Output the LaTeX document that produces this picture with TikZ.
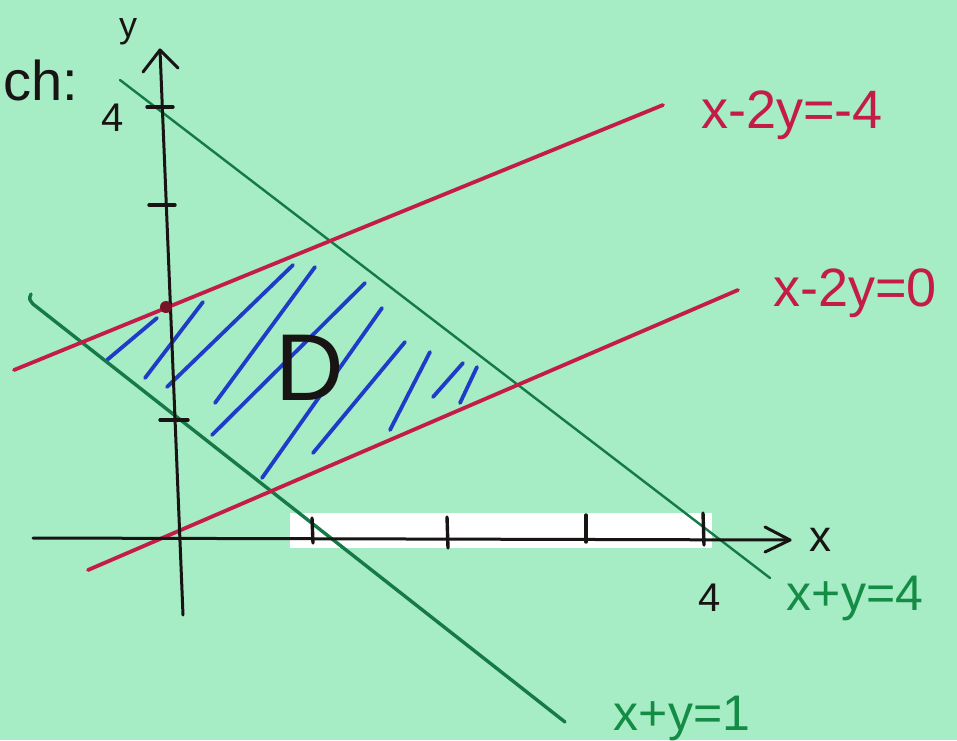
\documentclass[tikz,border=0pt]{standalone}
\usepackage{fontspec}
\setmainfont{Liberation Sans}
\definecolor{bg}{RGB}{166,236,196}
\definecolor{cred}{RGB}{196,28,72}
\definecolor{cgreen}{RGB}{22,122,72}
\definecolor{cgreenlab}{RGB}{20,140,70}
\definecolor{cblue}{RGB}{30,60,200}
\definecolor{cdot}{RGB}{120,20,40}
\definecolor{cink}{RGB}{25,20,20}
\begin{document}
\begin{tikzpicture}[x=1pt,y=-1pt,line cap=round,line join=round,
  axisline/.style={draw=cink,line width=3pt},
  tickline/.style={draw=cink,line width=3.4pt},
  redline/.style={draw=cred,line width=3.8pt},
  greenthin/.style={draw=cgreen,line width=2.4pt},
  greenthick/.style={draw=cgreen,line width=3.4pt},
  hatch/.style={draw=cblue,line width=3.8pt},
  redlab/.style={text=cred,font=\fontsize{54}{54}\selectfont,inner sep=0pt},
  greenlab/.style={text=cgreenlab,font=\fontsize{50}{50}\selectfont,inner sep=0pt},
  inklab/.style={text=cink,inner sep=0pt}]
\fill[bg] (0,0) rectangle (957,740);
\useasboundingbox (0,0) rectangle (957,740);
% white strip
\fill[white] (290,513) rectangle (712,548);
% blue hatching
\draw[hatch] (107,360) -- (157,318);
\draw[hatch] (145,378) -- (203,302);
\draw[hatch] (167,387) -- (293,265);
\draw[hatch] (215,403) -- (315,267);
\draw[hatch] (212,435) -- (365,283);
\draw[hatch] (262,478) -- (382,308);
\draw[hatch] (313,453) -- (405,342);
\draw[hatch] (390,430) -- (430,352);
\draw[hatch] (433,397) -- (463,363);
\draw[hatch] (460,403) -- (477,367);
% lines
\coordinate (g4a) at (120,80);  \coordinate (g4b) at (770,578);
\coordinate (g1a) at (33,304);  \coordinate (g1b) at (565,722);
\coordinate (r4a) at (14,370);  \coordinate (r4b) at (663,105);
\coordinate (r0a) at (88,570);  \coordinate (r0b) at (738,290);
\draw[greenthin] (g4a) -- (g4b);
\draw[greenthick] (31,294) .. controls (29,299) .. (g1a) -- (g1b);
\draw[redline] (r4a) -- (r4b);
\draw[redline] (r0a) -- (r0b);
% y axis
\coordinate (ybot) at (183,615); \coordinate (ytop) at (160,50);
\draw[axisline] (ybot) -- (ytop);
\draw[axisline] (143,72) -- (ytop) -- (178,68);
\draw[tickline] (147,107) -- (173,107);
\draw[tickline] (149,205) -- (175,205);
\draw[tickline] (160,420) -- (188,420);
\fill[cdot] (166,307) circle (6);
% x axis
\coordinate (xl) at (33,538); \coordinate (xr) at (790,540);
\draw[axisline] (xl) -- (xr);
\draw[axisline] (765,527) -- (xr) -- (765,552);
\draw[tickline] (312,518) -- (313,543);
\draw[tickline] (447,517) -- (448,548);
\draw[tickline] (586,515) -- (586,542);
\draw[tickline] (703,513) -- (704,545);
% labels
\node[redlab] (l1) at (792,115) {x-2y=-4};
\node[redlab] (l2) at (855,293) {x-2y=0};
\node[greenlab] (l3) at (855,598) {x+y=4};
\node[greenlab] (l4) at (682,718) {x+y=1};
\node[inklab,font=\fontsize{40}{40}\selectfont] (t4y) at (113,118) {4};
\node[inklab,font=\fontsize{40}{40}\selectfont] (t4x) at (710,598) {4};
\node[inklab,font=\fontsize{36}{36}\selectfont] (ly) at (128,32) {y};
\node[inklab,font=\fontsize{44}{44}\selectfont] (lx) at (820,540) {x};
\node[inklab,font=\fontsize{56}{56}\selectfont,anchor=west] (lch) at (3,80) {ch:};
\node[inklab,font=\fontsize{95}{95}\selectfont] (lD) at (310,368) {D};
\end{tikzpicture}
\end{document}
